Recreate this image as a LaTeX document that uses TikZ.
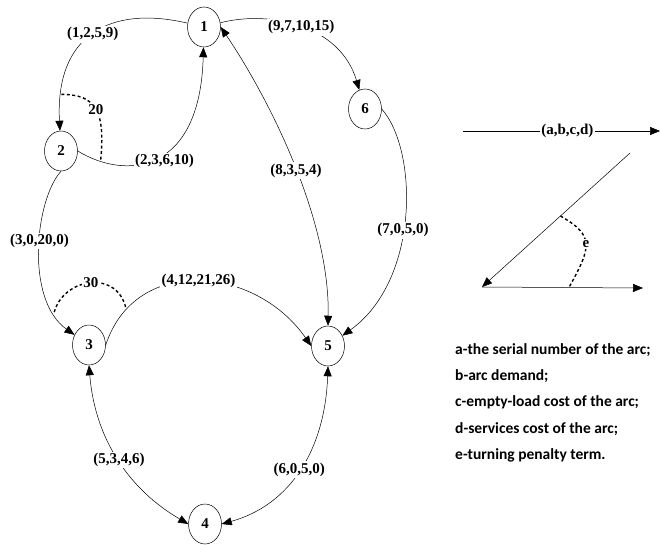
\documentclass[tikz,border=0pt]{standalone}
\usepackage{fontspec}
\newfontfamily\timesfont{Liberation Serif}
\newfontfamily\calfont{Carlito}
\usepackage{tikz}
\usetikzlibrary{arrows.meta, shapes.geometric}
\newcommand{\arclabel}{\timesfont\bfseries\fontsize{15}{18}\selectfont}
\newcommand{\notetext}{\calfont\bfseries\fontsize{15.5}{18}\selectfont}

\begin{document}
\begin{tikzpicture}[x=1pt, y=-1pt,
  vertex/.style={draw, ellipse, minimum width=33pt, minimum height=40pt, inner sep=0pt, line width=0.5pt, font=\arclabel},
  lab/.style={fill=white, inner sep=1.5pt, font=\arclabel},
  link/.style={line width=0.5pt, -{Triangle[length=10pt, width=8pt]}},
  twolink/.style={line width=0.5pt, {Triangle[length=10pt, width=8pt]}-{Triangle[length=10pt, width=8pt]}},
  turn/.style={line width=1.4pt, dash pattern=on 3pt off 2.5pt}]
  \useasboundingbox (0,0) rectangle (660,545);
  % vertices
  \node[vertex] (n1) at (204,27) {1};
  \node[vertex] (n2) at (61,151) {2};
  \node[vertex] (n3) at (89,345) {3};
  \node[vertex] (n4) at (205,524) {4};
  \node[vertex] (n5) at (328,346) {5};
  \node[vertex] (n6) at (365,109) {6};
  % arcs
  \draw[link] (n1) .. controls (110,5) and (55,35) .. (n2) coordinate[pos=0.86] (t20a) node[lab, pos=0.5] {(1,2,5,9)};
  \draw[link] (n2.east) .. controls (125,180) and (200,175) .. (n1) coordinate[pos=0.15] (t20b) node[lab, pos=0.55, yshift=-8pt] {(2,3,6,10)};
  \draw[link] (n1) .. controls (270,10) and (340,25) .. (n6) node[lab, pos=0.5] {(9,7,10,15)};
  \draw[twolink] (n1.east) .. controls (270,100) and (330,220) .. (n5.north) node[lab, pos=0.52] {(8,3,5,4)};
  \draw[link] (n6.east) .. controls (418,150) and (420,280) .. (n5) node[lab, pos=0.55] {(7,0,5,0)};
  \draw[link] (n2.south) .. controls (35,200) and (25,300) .. (n3) coordinate[pos=0.83] (t30a) node[lab, pos=0.45] {(3,0,20,0)};
  \draw[link] (n3.east) .. controls (135,255) and (255,265) .. (n5.west) coordinate[pos=0.16] (t30b) node[lab, pos=0.5] {(4,12,21,26)};
  \draw[twolink] (n3.south) .. controls (95,440) and (130,490) .. (n4.west) node[lab, pos=0.5] {(5,3,4,6)};
  \draw[twolink] (n5.south) .. controls (325,450) and (290,505) .. (n4.east) node[lab, pos=0.5] {(6,0,5,0)};
  % turning penalties
  \draw[turn] (t20a) .. controls +(35,0) and +(5,-50) .. (t20b) node[lab, pos=0.5] {20};
  \draw[turn] (t30a) .. controls +(10,-35) and +(-8,-40) .. (t30b) node[lab, pos=0.5] {30};
  % key
  \coordinate (keyL) at (463,131);
  \coordinate (keyR) at (660,131);
  \draw[link] (keyL) -- (keyR) node[lab, pos=0.53] {(a,b,c,d)};
  \coordinate (turnA) at (630,153);
  \coordinate (turnB) at (482,287);
  \coordinate (turnC) at (643,288);
  \draw[link] (turnA) -- (turnB) coordinate[pos=0.47] (eA);
  \draw[link] (turnB) -- (turnC) coordinate[pos=0.54] (eB);
  \draw[turn] (eA) .. controls +(35,20) and +(22,-40) .. (eB) node[lab, pos=0.5] {e};
  \foreach \txt [count=\i] in {a-the serial number of the arc;, b-arc demand;, c-empty-load cost of the arc;, d-services cost of the arc;, e-turning penalty term.}
    \node[anchor=west, inner sep=0pt, font=\notetext] (note\i) at (455, {323.75+26.25*\i}) {\txt};
\end{tikzpicture}
\end{document}
